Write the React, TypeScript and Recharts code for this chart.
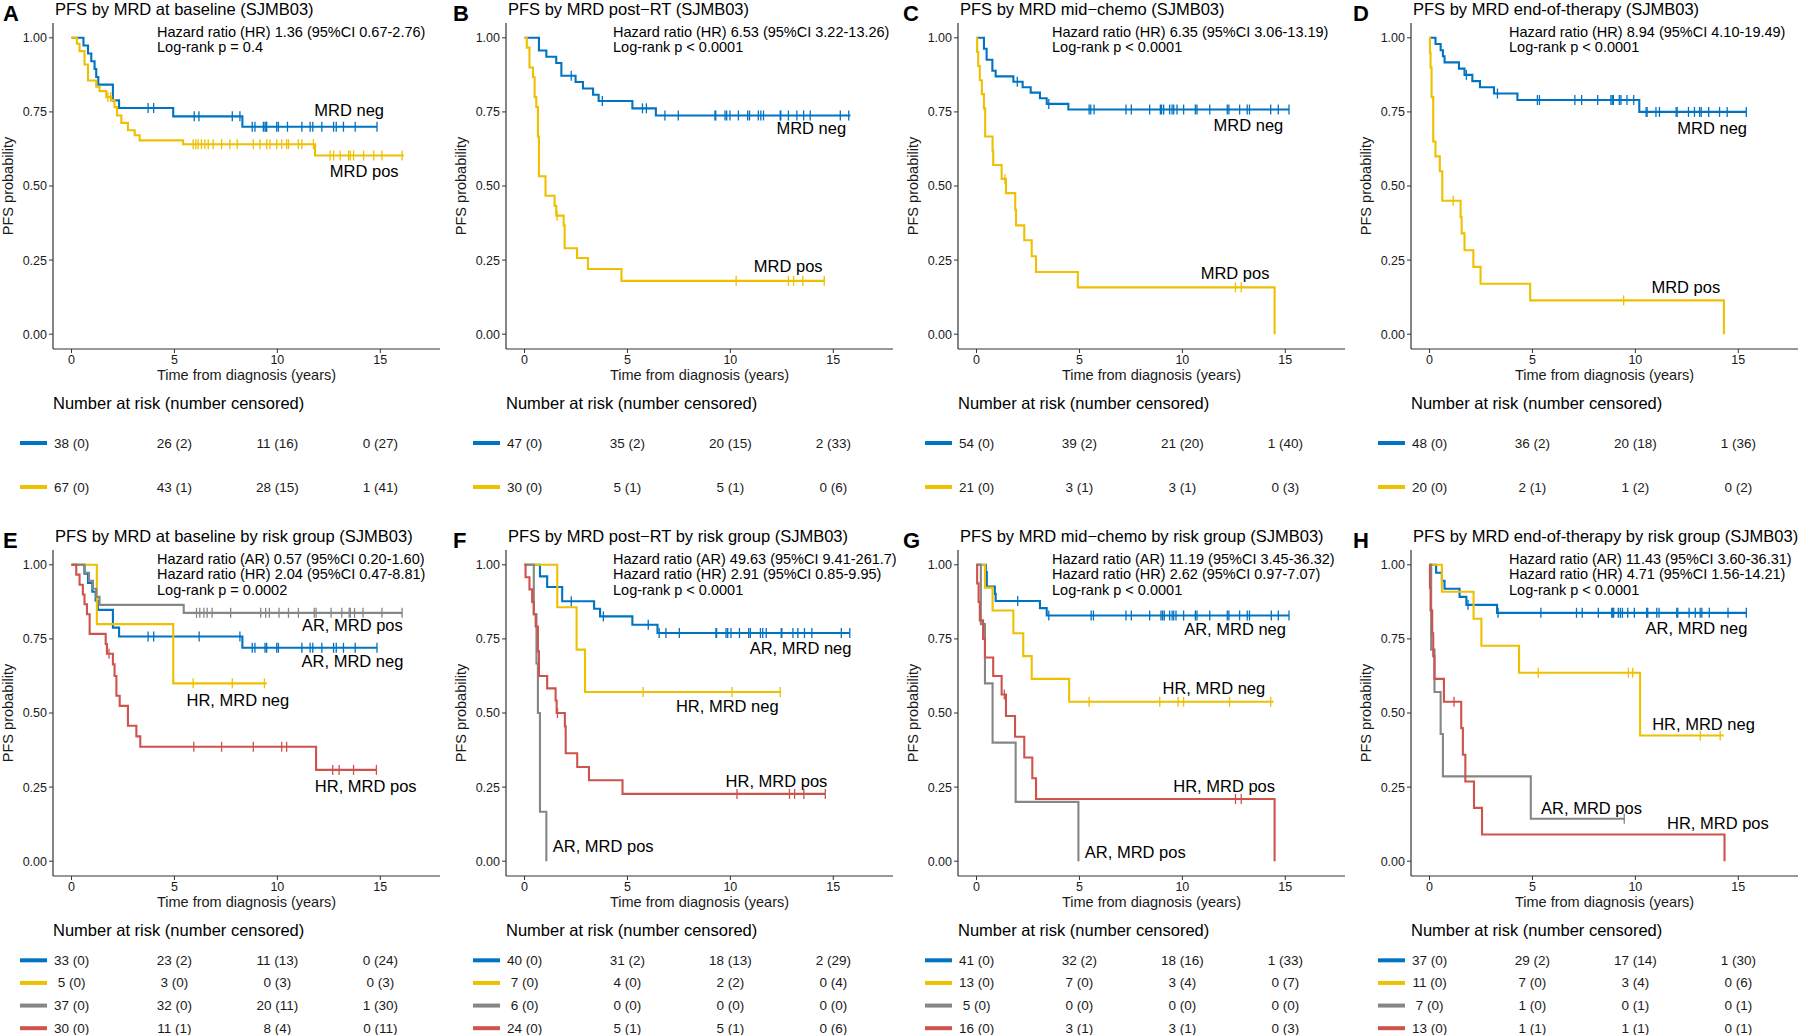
import React from "react";
import {
  ComposedChart,
  Line,
  XAxis,
  YAxis,
  ReferenceDot,
  ScatterChart,
  Scatter,
} from "recharts";

const BLUE = "#0073C2";
const YELLOW = "#EFC000";
const GRAY = "#868686";
const RED = "#CD534C";
const INK = "#1a1a1a";
const FONT = "'Liberation Sans', Arial, Helvetica, sans-serif";

const X_DOMAIN = [-0.9, 17.9];
const Y_DOMAIN = [-0.05, 1.05];
const X_TICKS = [0, 5, 10, 15];
const Y_TICKS = [0, 0.25, 0.5, 0.75, 1];
const RISK_TIMES = [0, 5, 10, 15];

// step curves: [time, survival after this time]; censor times in years
const A_NEG_STEPS = [[0, 1], [0.58, 0.974], [0.8, 0.947], [0.96, 0.921], [1.12, 0.895], [1.2, 0.868], [1.3, 0.842], [2.01, 0.789], [2.31, 0.763], [4.94, 0.735], [8.3, 0.7], [14.84, 0.7]];
const A_NEG_CENS = [3.72, 3.99, 5.96, 6.19, 7.81, 8.18, 8.78, 8.91, 9.32, 9.4, 9.45, 9.48, 9.97, 10.05, 10.49, 11.19, 11.59, 11.72, 12.16, 12.73, 12.86, 13.21, 13.78, 14.84];
const A_POS_STEPS = [[0, 1], [0.26, 0.98], [0.39, 0.955], [0.63, 0.91], [0.8, 0.856], [1.2, 0.835], [1.36, 0.82], [1.69, 0.8], [1.93, 0.79], [2.09, 0.766], [2.21, 0.738], [2.42, 0.713], [2.74, 0.688], [3.07, 0.671], [3.31, 0.654], [5.42, 0.641], [11.83, 0.603], [16.14, 0.603]];
const A_POS_CENS = [1.77, 1.9, 5.91, 6.04, 6.15, 6.31, 6.48, 6.64, 6.88, 7.29, 7.69, 8.05, 8.83, 9.16, 9.48, 9.64, 9.97, 10.21, 10.45, 10.54, 11.02, 11.19, 11.75, 12.56, 12.73, 13.05, 13.46, 13.54, 13.7, 14.19, 14.68, 15.08, 16.06];

const B_NEG_STEPS = [[0, 1], [0.7, 0.957], [1.06, 0.936], [1.54, 0.915], [1.79, 0.872], [2.48, 0.851], [2.84, 0.829], [3.33, 0.808], [3.6, 0.787], [5.24, 0.762], [6.38, 0.738], [15.83, 0.738]];
const B_NEG_CENS = [2.27, 3.78, 5.73, 5.92, 6.82, 7.47, 9.25, 9.29, 9.74, 9.82, 9.98, 10.39, 10.84, 10.93, 11.36, 11.48, 11.61, 12.42, 12.45, 12.82, 13.23, 13.56, 13.88, 15.34, 15.75];
const B_POS_STEPS = [[0, 1], [0.11, 0.967], [0.24, 0.9], [0.41, 0.867], [0.49, 0.8], [0.57, 0.767], [0.65, 0.667], [0.7, 0.533], [1.02, 0.467], [1.46, 0.433], [1.54, 0.4], [1.9, 0.367], [1.95, 0.29], [2.55, 0.257], [3.08, 0.22], [4.71, 0.18], [14.6, 0.18]];
const B_POS_CENS = [1.58, 10.28, 12.82, 13.07, 13.52, 14.56];

const C_NEG_STEPS = [[0, 1], [0.36, 0.963], [0.49, 0.926], [0.77, 0.889], [0.93, 0.87], [1.79, 0.852], [2.24, 0.833], [2.63, 0.815], [3.08, 0.796], [3.41, 0.777], [4.46, 0.758], [15.18, 0.758]];
const C_NEG_CENS = [1.98, 3.51, 5.47, 5.55, 5.71, 7.26, 7.52, 8.41, 8.93, 8.99, 9.09, 9.38, 9.5, 9.58, 9.74, 10.06, 10.63, 10.71, 11.33, 12.18, 12.26, 12.78, 13.15, 13.26, 14.29, 14.66, 15.18];
const C_POS_STEPS = [[0, 1], [0.03, 0.952], [0.08, 0.905], [0.16, 0.857], [0.26, 0.81], [0.36, 0.762], [0.42, 0.667], [0.78, 0.619], [0.81, 0.571], [1.22, 0.524], [1.43, 0.476], [1.88, 0.42], [1.92, 0.367], [2.32, 0.317], [2.68, 0.263], [2.89, 0.21], [4.92, 0.158], [14.48, 0]];
const C_POS_CENS = [1.38, 12.58, 12.86];

const D_NEG_STEPS = [[0, 1], [0.29, 0.979], [0.54, 0.958], [0.65, 0.938], [0.73, 0.917], [1.43, 0.896], [1.7, 0.875], [2.08, 0.854], [2.45, 0.833], [3.13, 0.812], [4.27, 0.79], [10.19, 0.75], [15.39, 0.75]];
const D_NEG_CENS = [1.79, 3.3, 5.24, 5.34, 7.06, 7.39, 8.17, 8.81, 8.88, 8.93, 9.22, 9.3, 9.59, 9.92, 10.52, 10.57, 11.0, 11.17, 11.98, 12.03, 12.58, 12.87, 13.12, 13.2, 13.56, 14.09, 14.46, 15.39];
const D_POS_STEPS = [[0, 1], [0.02, 0.95], [0.05, 0.9], [0.1, 0.8], [0.18, 0.65], [0.29, 0.6], [0.5, 0.55], [0.62, 0.45], [1.51, 0.395], [1.56, 0.34], [1.7, 0.283], [2.13, 0.227], [2.48, 0.17], [4.89, 0.114], [14.3, 0]];
const D_POS_CENS = [1.15, 9.43];

const E_ARNEG_STEPS = [[0, 1], [0.63, 0.97], [0.8, 0.939], [1.01, 0.909], [1.17, 0.879], [1.28, 0.848], [2.01, 0.788], [2.31, 0.758], [8.3, 0.72], [14.84, 0.72]];
const E_ARNEG_CENS = [3.72, 3.99, 6.2, 8.18, 8.78, 8.91, 9.4, 9.48, 9.97, 10.05, 11.19, 11.59, 11.72, 12.16, 12.73, 12.86, 13.21, 13.78, 14.84];
const E_HRNEG_STEPS = [[0, 1], [1.23, 0.8], [4.94, 0.6], [9.48, 0.6]];
const E_HRNEG_CENS = [5.91, 7.81, 9.37];
const E_ARPOS_STEPS = [[0, 1], [0.63, 0.973], [0.85, 0.946], [1.04, 0.919], [1.2, 0.892], [1.36, 0.865], [5.45, 0.838], [16.06, 0.838]];
const E_ARPOS_CENS = [6.07, 6.23, 6.43, 6.59, 6.83, 7.73, 9.19, 9.43, 9.61, 10.08, 10.54, 11.02, 11.79, 11.88, 12.61, 13.13, 13.49, 13.54, 13.75, 14.16, 15.08, 16.06];
const E_HRPOS_STEPS = [[0, 1], [0.23, 0.967], [0.39, 0.933], [0.55, 0.9], [0.63, 0.867], [0.75, 0.833], [0.88, 0.767], [1.66, 0.733], [1.72, 0.7], [2.01, 0.664], [2.09, 0.625], [2.18, 0.558], [2.34, 0.524], [2.74, 0.457], [3.15, 0.421], [3.34, 0.386], [11.88, 0.308], [14.81, 0.308]];
const E_HRPOS_CENS = [1.82, 5.94, 7.29, 8.83, 10.21, 10.45, 12.69, 13.0, 13.7, 14.81];

const F_ARNEG_STEPS = [[0, 1], [0.75, 0.961], [1.1, 0.925], [1.83, 0.877], [3.38, 0.852], [3.67, 0.826], [5.24, 0.798], [6.46, 0.77], [15.8, 0.77]];
const F_ARNEG_CENS = [2.27, 3.83, 6.01, 6.54, 6.87, 7.52, 9.3, 9.33, 9.79, 9.87, 10.03, 10.44, 10.89, 10.97, 11.46, 11.57, 11.74, 12.47, 12.5, 13.04, 13.28, 13.6, 13.96, 15.39, 15.8];
const F_HRNEG_STEPS = [[0, 1], [1.59, 0.857], [2.53, 0.714], [2.94, 0.571], [12.47, 0.571]];
const F_HRNEG_CENS = [5.76, 10.08, 12.42];
const F_ARPOS_STEPS = [[0, 1], [0.45, 0.833], [0.58, 0.667], [0.65, 0.5], [0.75, 0.167], [1.06, 0]];
const F_ARPOS_CENS = [];
const F_HRPOS_STEPS = [[0, 1], [0.05, 0.958], [0.24, 0.917], [0.37, 0.875], [0.45, 0.833], [0.54, 0.792], [0.65, 0.708], [0.7, 0.625], [1.1, 0.583], [1.51, 0.542], [1.56, 0.5], [1.96, 0.455], [2.0, 0.364], [2.56, 0.318], [3.13, 0.273], [4.76, 0.227], [14.61, 0.227]];
const F_HRPOS_CENS = [1.6, 10.32, 12.87, 13.12, 13.57, 14.61];

const G_ARNEG_STEPS = [[0, 1], [0.45, 0.976], [0.5, 0.927], [0.89, 0.902], [0.93, 0.878], [3.08, 0.854], [3.41, 0.829], [15.18, 0.829]];
const G_ARNEG_CENS = [2.0, 3.51, 5.57, 5.68, 7.26, 7.52, 8.41, 8.96, 9.04, 9.12, 9.38, 9.5, 9.58, 9.69, 10.06, 10.63, 10.71, 11.33, 12.18, 12.26, 12.78, 13.15, 13.26, 14.32, 14.66, 15.18];
const G_HRNEG_STEPS = [[0, 1], [0.41, 0.923], [0.78, 0.846], [1.79, 0.769], [2.27, 0.692], [2.68, 0.615], [4.5, 0.538], [14.42, 0.538]];
const G_HRNEG_CENS = [5.47, 8.9, 9.79, 10.06, 12.29, 14.29];
const G_ARPOS_STEPS = [[0, 1], [0.21, 0.8], [0.41, 0.6], [0.78, 0.4], [1.9, 0.2], [4.95, 0]];
const G_ARPOS_CENS = [];
const G_HRPOS_STEPS = [[0, 1], [0.03, 0.9375], [0.1, 0.875], [0.16, 0.8125], [0.32, 0.75], [0.41, 0.6875], [0.81, 0.625], [1.22, 0.5625], [1.43, 0.49], [1.87, 0.42], [2.32, 0.35], [2.71, 0.28], [2.89, 0.21], [14.48, 0]];
const G_HRPOS_CENS = [1.35, 12.58, 12.86];

const H_ARNEG_STEPS = [[0, 1], [0.32, 0.973], [0.6, 0.946], [0.73, 0.919], [1.46, 0.892], [1.79, 0.865], [3.28, 0.838], [15.39, 0.838]];
const H_ARNEG_CENS = [1.87, 3.33, 5.41, 7.14, 7.42, 8.2, 8.85, 8.9, 8.95, 9.17, 9.27, 9.37, 9.63, 9.95, 10.55, 10.6, 11.04, 11.15, 12.01, 12.06, 12.61, 12.91, 13.15, 13.23, 13.59, 14.5, 15.39];
const H_HRNEG_STEPS = [[0, 1], [0.6, 0.909], [2.14, 0.818], [2.52, 0.727], [4.35, 0.636], [10.23, 0.424], [14.29, 0.424]];
const H_HRNEG_CENS = [5.28, 9.66, 9.87, 13.15, 14.12];
const H_ARPOS_STEPS = [[0, 1], [0.08, 0.714], [0.24, 0.571], [0.54, 0.429], [0.65, 0.286], [4.92, 0.143], [9.46, 0.143]];
const H_ARPOS_CENS = [9.46];
const H_HRPOS_STEPS = [[0, 1], [0.02, 0.923], [0.05, 0.846], [0.13, 0.769], [0.18, 0.692], [0.24, 0.615], [0.7, 0.538], [1.54, 0.449], [1.62, 0.359], [1.74, 0.269], [2.16, 0.18], [2.55, 0.09], [14.33, 0]];
const H_HRPOS_CENS = [1.19];

// number at risk (number censored) at 0, 5, 10, 15 years
const A_RISK_NEG = ["38 (0)", "26 (2)", "11 (16)", "0 (27)"];
const A_RISK_POS = ["67 (0)", "43 (1)", "28 (15)", "1 (41)"];
const B_RISK_NEG = ["47 (0)", "35 (2)", "20 (15)", "2 (33)"];
const B_RISK_POS = ["30 (0)", "5 (1)", "5 (1)", "0 (6)"];
const C_RISK_NEG = ["54 (0)", "39 (2)", "21 (20)", "1 (40)"];
const C_RISK_POS = ["21 (0)", "3 (1)", "3 (1)", "0 (3)"];
const D_RISK_NEG = ["48 (0)", "36 (2)", "20 (18)", "1 (36)"];
const D_RISK_POS = ["20 (0)", "2 (1)", "1 (2)", "0 (2)"];
const E_RISK_ARNEG = ["33 (0)", "23 (2)", "11 (13)", "0 (24)"];
const E_RISK_HRNEG = ["5 (0)", "3 (0)", "0 (3)", "0 (3)"];
const E_RISK_ARPOS = ["37 (0)", "32 (0)", "20 (11)", "1 (30)"];
const E_RISK_HRPOS = ["30 (0)", "11 (1)", "8 (4)", "0 (11)"];
const F_RISK_ARNEG = ["40 (0)", "31 (2)", "18 (13)", "2 (29)"];
const F_RISK_HRNEG = ["7 (0)", "4 (0)", "2 (2)", "0 (4)"];
const F_RISK_ARPOS = ["6 (0)", "0 (0)", "0 (0)", "0 (0)"];
const F_RISK_HRPOS = ["24 (0)", "5 (1)", "5 (1)", "0 (6)"];
const G_RISK_ARNEG = ["41 (0)", "32 (2)", "18 (16)", "1 (33)"];
const G_RISK_HRNEG = ["13 (0)", "7 (0)", "3 (4)", "0 (7)"];
const G_RISK_ARPOS = ["5 (0)", "0 (0)", "0 (0)", "0 (0)"];
const G_RISK_HRPOS = ["16 (0)", "3 (1)", "3 (1)", "0 (3)"];
const H_RISK_ARNEG = ["37 (0)", "29 (2)", "17 (14)", "1 (30)"];
const H_RISK_HRNEG = ["11 (0)", "7 (0)", "3 (4)", "0 (6)"];
const H_RISK_ARPOS = ["7 (0)", "1 (0)", "0 (1)", "0 (1)"];
const H_RISK_HRPOS = ["13 (0)", "1 (1)", "1 (1)", "0 (1)"];

const TOP_COLORS = [BLUE, YELLOW];
const RISK_COLORS = [BLUE, YELLOW, GRAY, RED];

const PANELS = [
  {
    letter: "A", col: 0, row: 0,
    title: "PFS by MRD at baseline (SJMB03)",
    notes: ["Hazard ratio (HR) 1.36 (95%CI 0.67-2.76)", "Log-rank p = 0.4"],
    curves: [[A_NEG_STEPS, A_NEG_CENS, BLUE], [A_POS_STEPS, A_POS_CENS, YELLOW]],
    labels: [["MRD neg", 13.49, 0.755], ["MRD pos", 14.22, 0.551]],
    risk: [A_RISK_NEG, A_RISK_POS], colors: TOP_COLORS,
  },
  {
    letter: "B", col: 1, row: 0,
    title: "PFS by MRD post\u2212RT (SJMB03)",
    notes: ["Hazard ratio (HR) 6.53 (95%CI 3.22-13.26)", "Log-rank p < 0.0001"],
    curves: [[B_NEG_STEPS, B_NEG_CENS, BLUE], [B_POS_STEPS, B_POS_CENS, YELLOW]],
    labels: [["MRD neg", 13.93, 0.694], ["MRD pos", 12.81, 0.229]],
    risk: [B_RISK_NEG, B_RISK_POS], colors: TOP_COLORS,
  },
  {
    letter: "C", col: 2, row: 0,
    title: "PFS by MRD mid\u2212chemo (SJMB03)",
    notes: ["Hazard ratio (HR) 6.35 (95%CI 3.06-13.19)", "Log-rank p < 0.0001"],
    curves: [[C_NEG_STEPS, C_NEG_CENS, BLUE], [C_POS_STEPS, C_POS_CENS, YELLOW]],
    labels: [["MRD neg", 13.21, 0.705], ["MRD pos", 12.56, 0.205]],
    risk: [C_RISK_NEG, C_RISK_POS], colors: TOP_COLORS,
  },
  {
    letter: "D", col: 3, row: 0,
    title: "PFS by MRD end-of-therapy (SJMB03)",
    notes: ["Hazard ratio (HR) 8.94 (95%CI 4.10-19.49)", "Log-rank p < 0.0001"],
    curves: [[D_NEG_STEPS, D_NEG_CENS, BLUE], [D_POS_STEPS, D_POS_CENS, YELLOW]],
    labels: [["MRD neg", 13.73, 0.694], ["MRD pos", 12.45, 0.16]],
    risk: [D_RISK_NEG, D_RISK_POS], colors: TOP_COLORS,
  },
  {
    letter: "E", col: 0, row: 1,
    title: "PFS by MRD at baseline by risk group (SJMB03)",
    notes: ["Hazard ratio (AR) 0.57 (95%CI 0.20-1.60)", "Hazard ratio (HR) 2.04 (95%CI 0.47-8.81)", "Log-rank p = 0.0002"],
    curves: [[E_ARNEG_STEPS, E_ARNEG_CENS, BLUE], [E_HRNEG_STEPS, E_HRNEG_CENS, YELLOW], [E_ARPOS_STEPS, E_ARPOS_CENS, GRAY], [E_HRPOS_STEPS, E_HRPOS_CENS, RED]],
    labels: [["AR, MRD pos", 13.64, 0.798], ["AR, MRD neg", 13.65, 0.675], ["HR, MRD neg", 8.08, 0.544], ["HR, MRD pos", 14.29, 0.253]],
    risk: [E_RISK_ARNEG, E_RISK_HRNEG, E_RISK_ARPOS, E_RISK_HRPOS], colors: RISK_COLORS,
  },
  {
    letter: "F", col: 1, row: 1,
    title: "PFS by MRD post\u2212RT by risk group (SJMB03)",
    notes: ["Hazard ratio (AR) 49.63 (95%CI 9.41-261.7)", "Hazard ratio (HR) 2.91 (95%CI 0.85-9.95)", "Log-rank p < 0.0001"],
    curves: [[F_ARNEG_STEPS, F_ARNEG_CENS, BLUE], [F_HRNEG_STEPS, F_HRNEG_CENS, YELLOW], [F_ARPOS_STEPS, F_ARPOS_CENS, GRAY], [F_HRPOS_STEPS, F_HRPOS_CENS, RED]],
    labels: [["AR, MRD neg", 13.41, 0.718], ["HR, MRD neg", 9.85, 0.524], ["HR, MRD pos", 12.24, 0.27], ["AR, MRD pos", 3.82, 0.05]],
    risk: [F_RISK_ARNEG, F_RISK_HRNEG, F_RISK_ARPOS, F_RISK_HRPOS], colors: RISK_COLORS,
  },
  {
    letter: "G", col: 2, row: 1,
    title: "PFS by MRD mid\u2212chemo by risk group (SJMB03)",
    notes: ["Hazard ratio (AR) 11.19 (95%CI 3.45-36.32)", "Hazard ratio (HR) 2.62 (95%CI 0.97-7.07)", "Log-rank p < 0.0001"],
    curves: [[G_ARNEG_STEPS, G_ARNEG_CENS, BLUE], [G_HRNEG_STEPS, G_HRNEG_CENS, YELLOW], [G_ARPOS_STEPS, G_ARPOS_CENS, GRAY], [G_HRPOS_STEPS, G_HRPOS_CENS, RED]],
    labels: [["AR, MRD neg", 12.56, 0.782], ["HR, MRD neg", 11.53, 0.583], ["HR, MRD pos", 12.03, 0.253], ["AR, MRD pos", 7.71, 0.029]],
    risk: [G_RISK_ARNEG, G_RISK_HRNEG, G_RISK_ARPOS, G_RISK_HRPOS], colors: RISK_COLORS,
  },
  {
    letter: "H", col: 3, row: 1,
    title: "PFS by MRD end-of-therapy by risk group (SJMB03)",
    notes: ["Hazard ratio (AR) 11.43 (95%CI 3.60-36.31)", "Hazard ratio (HR) 4.71 (95%CI 1.56-14.21)", "Log-rank p < 0.0001"],
    curves: [[H_ARNEG_STEPS, H_ARNEG_CENS, BLUE], [H_HRNEG_STEPS, H_HRNEG_CENS, YELLOW], [H_ARPOS_STEPS, H_ARPOS_CENS, GRAY], [H_HRPOS_STEPS, H_HRPOS_CENS, RED]],
    labels: [["AR, MRD neg", 12.97, 0.785], ["HR, MRD neg", 13.31, 0.462], ["AR, MRD pos", 7.87, 0.18], ["HR, MRD pos", 14.01, 0.129]],
    risk: [H_RISK_ARNEG, H_RISK_HRNEG, H_RISK_ARPOS, H_RISK_HRPOS], colors: RISK_COLORS,
  },
];

// layout per column: y axis width and where the notes start
const AXIS_W = [53, 56, 58, 61];
const NOTE_X = [157, 163, 152, 159];
const PLOT_W = 387;

function survAt(steps, t) {
  let s = 1;
  for (const [ts, v] of steps) if (ts <= t) s = v;
  return s;
}

function kmPoints(steps, cens) {
  const pts = steps.map(([t, s]) => ({ t, s, c: false }));
  cens.forEach((t) => pts.push({ t, s: survAt(steps, t), c: true }));
  return pts.sort((a, b) => a.t - b.t || (a.c ? 1 : 0) - (b.c ? 1 : 0));
}

const censorDot = (color) => (props) => {
  const { cx, cy, payload, index } = props;
  if (!payload || !payload.c) return <g key={`n${index}`} />;
  return (
    <line key={`c${index}`} x1={cx} x2={cx} y1={cy - 5} y2={cy + 5} stroke={color} strokeWidth={1.3} />
  );
};

function Panel({ p }) {
  const yw = AXIS_W[p.col];
  const rm = 450 - yw - PLOT_W;
  const left = p.col * 450;
  const top = p.row === 0 ? 0 : 527;
  const nRows = p.risk.length;
  const riskH = nRows === 2 ? 88 : 90.5;
  const riskTop = nRows === 2 ? 421 : 422;
  const cells = [];
  p.risk.forEach((row, r) => row.forEach((label, i) => cells.push({ t: RISK_TIMES[i], r, label })));

  return (
    <div style={{ position: "absolute", left, top, width: 450, height: 512 }}>
      <div style={{ position: "absolute", left: 3, top: 1, fontSize: 22, fontWeight: 700, lineHeight: 1.15 }}>{p.letter}</div>
      <div style={{ position: "absolute", left: yw + 2, top: 0, fontSize: 16.5, lineHeight: 1.1, whiteSpace: "nowrap" }}>{p.title}</div>
      <div style={{ position: "absolute", left: NOTE_X[p.col], top: 24.5, fontSize: 14.5, lineHeight: "15.5px", whiteSpace: "nowrap", zIndex: 2 }}>
        {p.notes.map((n) => (
          <div key={n}>{n}</div>
        ))}
      </div>
      <div style={{ position: "absolute", left: 0, top: 0 }}>
        <ComposedChart width={450} height={391} margin={{ top: 23, right: rm, bottom: 0, left: 0 }}>
          <XAxis
            type="number"
            dataKey="t"
            domain={X_DOMAIN}
            ticks={X_TICKS}
            allowDataOverflow
            height={42}
            tickSize={4}
            tickMargin={2}
            tick={{ fontSize: 12.5, fill: INK }}
            axisLine={{ stroke: "#333", strokeWidth: 1.2 }}
            tickLine={{ stroke: "#333" }}
            label={{
              content: ({ viewBox }) => (
                <text x={viewBox.x + viewBox.width / 2} y={viewBox.y + 26} textAnchor="middle" dominantBaseline="central" fontSize={14.5} fill={INK}>
                  Time from diagnosis (years)
                </text>
              ),
            }}
          />
          <YAxis
            type="number"
            domain={Y_DOMAIN}
            ticks={Y_TICKS}
            allowDataOverflow
            width={yw}
            tickSize={4}
            tickMargin={2}
            tickFormatter={(v) => v.toFixed(2)}
            tick={{ fontSize: 12.5, fill: INK }}
            axisLine={{ stroke: "#333", strokeWidth: 1.2 }}
            tickLine={{ stroke: "#333" }}
            label={{
              content: ({ viewBox }) => {
                const x = viewBox.x + viewBox.width - 45;
                const y = viewBox.y + viewBox.height / 2;
                return (
                  <text x={x} y={y} transform={`rotate(-90 ${x} ${y})`} textAnchor="middle" dominantBaseline="central" fontSize={14.5} fill={INK}>
                    PFS probability
                  </text>
                );
              },
            }}
          />
          {p.curves.map(([steps, cens, color], i) => (
            <Line
              key={i}
              data={kmPoints(steps, cens)}
              dataKey="s"
              type="stepAfter"
              stroke={color}
              strokeWidth={2.1}
              dot={censorDot(color)}
              activeDot={false}
              isAnimationActive={false}
            />
          ))}
          {p.labels.map(([text, t, s]) => (
            <ReferenceDot
              key={text}
              x={t}
              y={s}
              r={1}
              fill="none"
              stroke="none"
              label={{ value: text, position: "center", fontSize: 16.5, fill: "#000" }}
            />
          ))}
        </ComposedChart>
      </div>
      <div style={{ position: "absolute", left: yw, top: 395, fontSize: 16.5, lineHeight: 1, whiteSpace: "nowrap" }}>
        Number at risk (number censored)
      </div>
      <div style={{ position: "absolute", left: 0, top: riskTop }}>
        <ScatterChart width={450} height={riskH} margin={{ top: 0, right: rm, bottom: 0, left: 0 }}>
          <XAxis hide type="number" dataKey="t" domain={X_DOMAIN} allowDataOverflow />
          <YAxis
            type="number"
            dataKey="r"
            domain={[-0.5, nRows - 0.5]}
            ticks={p.risk.map((_, i) => i)}
            reversed
            interval={0}
            width={yw}
            axisLine={false}
            tickLine={false}
            tickSize={0}
            tickMargin={6}
            tick={(props) => (
              <line
                key={`seg${props.index}`}
                x1={props.x - 27}
                x2={props.x}
                y1={props.y}
                y2={props.y}
                stroke={p.colors[props.payload.value]}
                strokeWidth={4}
              />
            )}
          />
          <Scatter
            data={cells}
            isAnimationActive={false}
            shape={(props) => (
              <text x={props.cx} y={props.cy} textAnchor="middle" dominantBaseline="central" fontSize={13.5} fill={INK}>
                {props.payload.label}
              </text>
            )}
          />
        </ScatterChart>
      </div>
    </div>
  );
}

export default function App() {
  return (
    <div
      style={{
        position: "absolute",
        left: 0,
        top: 0,
        width: 1800,
        height: 1035,
        overflow: "hidden",
        background: "#fff",
        fontFamily: FONT,
        color: "#000",
      }}
    >
      {PANELS.map((p) => (
        <Panel key={p.letter} p={p} />
      ))}
    </div>
  );
}
